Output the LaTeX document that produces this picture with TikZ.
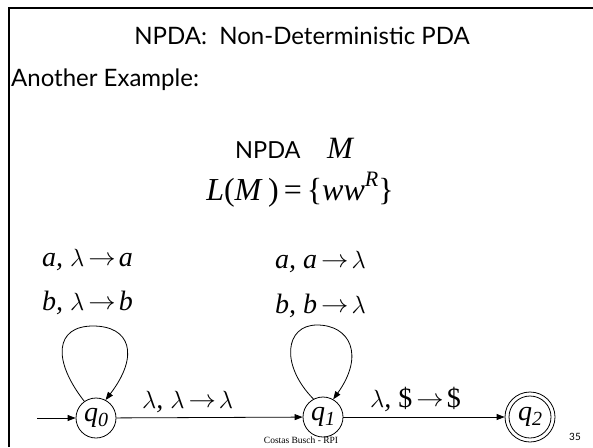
\documentclass[tikz,border=0pt]{standalone}
\usepackage{graphicx}
\usepackage{fontspec}
\setmainfont{Liberation Serif}
\newfontfamily\gill{Lato}
\usetikzlibrary{arrows.meta}
\tikzset{
  gtext/.style={font=\gill\fontsize{24}{28}\selectfont, inner sep=0pt},
  lbl/.style={font=\fontsize{28}{32}\selectfont\itshape, inner sep=0pt, anchor=base west},
  state/.style={draw, circle, line width=0.8pt, minimum size=40pt, inner sep=0pt,
    font=\fontsize{28}{30}\selectfont\itshape},
  edge/.style={line width=0.8pt, -{Triangle[length=8pt,width=6pt]}},
  frame/.style={line width=2pt}
}
\newcommand\qsub[2]{#1\raisebox{-0.35ex}{\fontsize{20}{20}\selectfont #2}}
\newcommand\arrw{\hspace{4pt}\raisebox{0.5pt}{\scalebox{1.1}[1]{$\rightarrow$}}\hspace{3pt}}
\newcommand\lam{$\lambda$}
\begin{document}
\begin{tikzpicture}[x=1pt,y=-1pt]
\useasboundingbox (0,0) rectangle (593,447);
\draw[frame] (9,447) -- (9,8) -- (593,8);
\node[gtext, anchor=base] (title) at (302,44) {NPDA:\ \ Non-Deterministic PDA};
\node[gtext, anchor=base west] (another) at (11,86) {Another Example:};
\node[gtext, anchor=base west, font=\gill\fontsize{23.5}{28}\selectfont] (npda) at (235,158) {NPDA};
\node[lbl, font=\fontsize{31}{32}\selectfont\itshape] (mm) at (327,158) {M};
\node[inner sep=0pt, anchor=base, font=\fontsize{32}{34}\selectfont] (lang) at (300,200)
  {\textit{L}(\textit{M}\,)\hspace{5pt}=\hspace{5pt}\{\textit{ww}\raisebox{0.9ex}{\fontsize{22}{22}\selectfont\textit{R}}\}};
\node[lbl] (la0) at (42,266) {a, \lam\arrw a};
\node[lbl] (lb0) at (42,310) {b, \lam\arrw b};
\node[lbl] (la1) at (275,268) {a, a\arrw\lam};
\node[lbl] (lb1) at (275,313) {b, b\arrw\lam};
\node[lbl] (l01) at (142,408) {\lam, \lam\arrw\lam};
\node[lbl] (l12) at (370,407) {\lam, \upshape\$\arrw\$};
\node[state] (q0) at (96,418) {\qsub{q}{0}};
\node[state] (q1) at (323,417) {\qsub{q}{1}};
\node[state, minimum size=50pt] (q2) at (530,417) {\qsub{q}{2}};
\draw[line width=0.8pt] (q2.center) circle (21);
\coordinate (init) at (37,418);
\draw[edge] (init) -- (q0);
\draw[edge] (q0) -- (q1);
\draw[edge] (q1) -- (q2);
\draw[edge] (q0.125) .. controls (52,360) and (55,326) .. (93,326)
  .. controls (130,326) and (140,355) .. (q0.62);
\draw[edge] (q1.118) .. controls (280,365) and (285,325) .. (317,325)
  .. controls (350,325) and (365,355) .. (q1.60);
\node[inner sep=0pt, anchor=base, font=\fontsize{9.5}{10}\selectfont] (foot) at (301,443) {Costas Busch - RPI};
\node[inner sep=0pt, anchor=base, font=\gill\fontsize{10}{10}\selectfont] (page) at (575,440) {35};
\end{tikzpicture}
\end{document}
